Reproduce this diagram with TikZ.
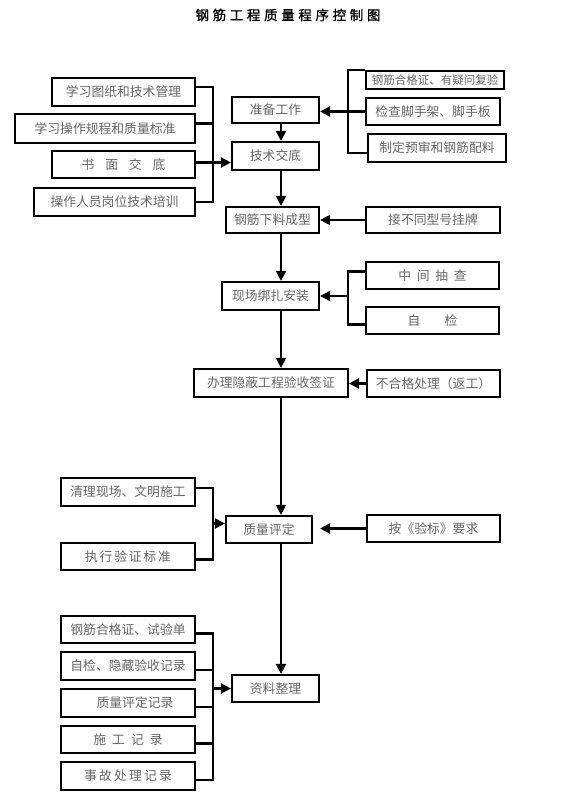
\documentclass[tikz,border=0pt]{standalone}
\usepackage{fontspec}
\setmainfont{Noto Sans CJK SC}
\newfontfamily\titlefont[LetterSpace=27,FakeBold=1.2]{Noto Sans CJK SC}
\usetikzlibrary{arrows.meta}

\begin{document}
\begin{tikzpicture}[x=1pt,y=-1pt,
  box/.style={draw,line width=2.2pt,inner sep=0pt,text=black!60,font=\fontsize{12.8}{14}\selectfont},
  wire/.style={line width=2.2pt},
  arr/.style={line width=2.2pt,-{Triangle[length=10pt,width=10pt]}}]
\useasboundingbox (0,0) rectangle (575,810);
\node[font=\titlefont\fontsize{13.5}{16}\selectfont] (title) at (288,15) {钢筋工程质量程序控制图};
\coordinate (sp) at (281,0);
\coordinate (lb) at (213,0);
\coordinate (rb) at (348,0);
\node[box,minimum width=143,minimum height=28] (l1) at (123.5,92) {学习图纸和技术管理};
\node[box,minimum width=180,minimum height=29] (l2) at (105,128.5) {学习操作规程和质量标准};
\node[box,minimum width=143,minimum height=27] (l3) at (123.5,164.5) {书\hspace{0.85em}面\hspace{0.85em}交\hspace{0.85em}底};
\node[box,minimum width=161,minimum height=28] (l4) at (114.5,202) {操作人员岗位技术培训};
\node[box,minimum width=87,minimum height=26] (zb) at (275.5,110) {准备工作};
\node[box,minimum width=87,minimum height=28] (jsjd) at (275.5,156) {技术交底};
\node[box,minimum width=93,minimum height=26] (xl) at (272.5,220) {钢筋下料成型};
\node[box,minimum width=97,minimum height=28] (az) at (270.5,296) {现场绑扎安装};
\node[box,minimum width=154,minimum height=28] (bl) at (271,383) {办理隐蔽工程验收签证};
\node[box,minimum width=86,minimum height=27] (pd) at (269,529.5) {质量评定};
\node[box,minimum width=87,minimum height=27] (zl) at (275.5,688.5) {资料整理};
\node[box,minimum width=138,minimum height=18,font=\fontsize{11.5}{12}\selectfont] (r1) at (435,80) {钢筋合格证、有疑问复验};
\node[box,minimum width=134,minimum height=27] (r2) at (433,111.5) {检查脚手架、脚手板};
\node[box,minimum width=138,minimum height=28] (r3) at (437,148) {制定预审和钢筋配料};
\node[box,minimum width=134,minimum height=26] (r4) at (433,220) {接不同型号挂牌};
\node[box,minimum width=133,minimum height=27] (r5) at (432.5,275.5) {中\hspace{0.45em}间\hspace{0.45em}抽\hspace{0.45em}查};
\node[box,minimum width=133,minimum height=27] (r6) at (432.5,320.5) {自\hspace{1.9em}检};
\node[box,minimum width=133,minimum height=27] (r7) at (433.5,383.5) {不合格处理（返工）};
\node[box,minimum width=133,minimum height=27] (r8) at (433.5,528.5) {按《验标》要求};
\node[box,minimum width=134,minimum height=28] (q1) at (128,492) {清理现场、文明施工};
\node[box,minimum width=134,minimum height=27] (q2) at (128,556.5) {执\hspace{0.14em}行\hspace{0.14em}验\hspace{0.14em}证\hspace{0.14em}标\hspace{0.14em}准};
\node[box,minimum width=134,minimum height=27] (s1) at (128,629.5) {钢筋合格证、试验单};
\node[box,minimum width=134,minimum height=28] (s2) at (128,666) {自检、隐藏验收记录};
\node[box,minimum width=134,minimum height=28] (s3) at (128,703) {\hspace*{14pt}质量评定记录};
\node[box,minimum width=134,minimum height=27] (s4) at (128,739.5) {施\hspace{0.47em}工\hspace{0.47em}记\hspace{0.47em}录};
\node[box,minimum width=134,minimum height=28] (s5) at (128,776) {事\hspace{0.17em}故\hspace{0.17em}处\hspace{0.17em}理\hspace{0.17em}记\hspace{0.17em}录};
\draw[arr] (zb.south -| sp) -- (jsjd.north -| sp);
\draw[arr] (jsjd.south -| sp) -- (xl.north -| sp);
\draw[arr] (xl.south -| sp) -- (az.north -| sp);
\draw[arr] (az.south -| sp) -- (bl.north -| sp);
\draw[arr] (bl.south -| sp) -- (pd.north -| sp);
\draw[arr] (pd.south -| sp) -- (zl.north -| sp);
\draw[wire] ([yshift=5pt]l1.east) -- ([yshift=5pt]l1.east -| lb) -- (l4.east -| lb) -- (l4.east);
\draw[wire] ([yshift=5pt]l2.east) -- ([yshift=5pt]l2.east -| lb);
\draw[arr] ([yshift=2pt]l3.east) -- ([yshift=2pt]l3.east -| jsjd.west);
\draw[wire] (r1.north west) -- (r1.north west -| rb) -- ([yshift=-5pt]r3.west -| rb) -- ([yshift=-5pt]r3.west);
\draw[arr] (r2.west) -- (r2.west -| zb.east);
\draw[arr] (r4.west) -- (xl.east);
\draw[wire] ([yshift=4pt]r5.west) -- ([yshift=4pt]r5.west -| rb) -- ([yshift=-4pt]r6.west -| rb) -- ([yshift=-4pt]r6.west);
\draw[arr] (az.east -| rb) -- (az.east);
\draw[arr] (r7.west) -- (r7.west -| bl.east);
\draw[arr,shorten >=7pt] (r8.west) -- (r8.west -| pd.east);
\draw[wire] ([yshift=4pt]q1.east) -- ([yshift=4pt]q1.east -| lb) -- ([yshift=-3pt]q2.east -| lb) -- ([yshift=-3pt]q2.east);
\draw[arr] ([yshift=6pt]pd.west -| lb) -- ([yshift=6pt]pd.west);
\draw[wire] ([yshift=-4pt]s1.east) -- ([yshift=-4pt]s1.east -| lb) -- ([yshift=-4pt]s5.east -| lb) -- ([yshift=-4pt]s5.east);
\draw[wire] ([yshift=-4pt]s2.east) -- ([yshift=-4pt]s2.east -| lb);
\draw[wire] ([yshift=-4pt]s3.east) -- ([yshift=-4pt]s3.east -| lb);
\draw[wire] ([yshift=-4pt]s4.east) -- ([yshift=-4pt]s4.east -| lb);
\draw[arr] (zl.west -| lb) -- (zl.west);
\end{tikzpicture}
\end{document}
